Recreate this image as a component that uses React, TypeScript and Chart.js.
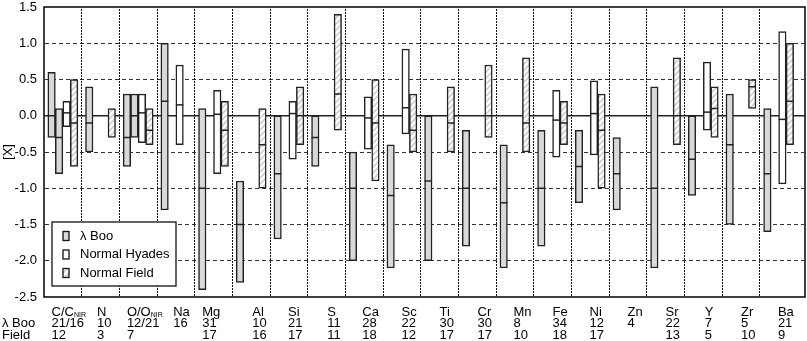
import React, { useEffect, useRef } from 'react';
import { Chart, registerables } from 'chart.js';

Chart.register(...registerables);

// ---------- data ----------
const ELEMENTS = ['C/C_NIR', 'N', 'O/O_NIR', 'Na', 'Mg', 'Al', 'Si', 'S', 'Ca', 'Sc', 'Ti', 'Cr', 'Mn', 'Fe', 'Ni', 'Zn', 'Sr', 'Y', 'Zr', 'Ba'];
const LAMBOO_COUNTS = ['21/16', '10', '12/21', '16', '31', '10', '21', '11', '28', '22', '30', '30', '8', '34', '12', '4', '22', '7', '5', '21'];
const FIELD_COUNTS = ['12', '3', '7', '', '17', '16', '17', '11', '18', '12', '17', '17', '10', '18', '17', '', '13', '5', '10', '9'];

type R = [number, number] | null;

// lambda Boo (first element: C, O)
const LAMBOO_RANGE: R[] = [
  [-0.3, 0.6], [-0.5, 0.4], [-0.7, 0.3], [-1.3, 1.0], [-2.4, 0.1], [-2.3, -0.9], [-1.7, 0.0], [-0.7, 0.0], [-2.0, -0.5], [-2.1, -0.4],
  [-2.0, 0.0], [-1.8, -0.2], [-2.1, -0.4], [-1.8, -0.2], [-1.2, -0.2], [-1.3, -0.3], [-2.1, 0.4], [-1.1, 0.0], [-1.5, 0.3], [-1.6, 0.1],
];
const LAMBOO_MEDIAN: (number | null)[] = [0.0, -0.1, -0.3, 0.2, -1.0, -1.5, -0.8, -0.3, -1.0, -1.1, -0.9, -1.0, -1.2, -1.0, -0.7, -0.8, -1.0, -0.6, -0.4, -0.8];

// lambda Boo NIR (C_NIR, O_NIR)
const LAMBOO_NIR_RANGE: R[] = [
  [-0.8, 0.1], null, [-0.3, 0.3], null, null, null, null, null, null, null,
  null, null, null, null, null, null, null, null, null, null,
];
const LAMBOO_NIR_MEDIAN: (number | null)[] = [-0.3, null, 0.0, null, null, null, null, null, null, null, null, null, null, null, null, null, null, null, null, null];

// Normal Hyades
const HYADES_RANGE: R[] = [
  [-0.15, 0.2], null, [-0.37, 0.3], [-0.4, 0.7], [-0.8, 0.35], null, [-0.6, 0.2], null, [-0.46, 0.26], [-0.25, 0.92],
  null, null, null, [-0.57, 0.35], [-0.54, 0.48], null, null, [-0.2, 0.74], null, [-0.94, 1.16],
];
const HYADES_MEDIAN: (number | null)[] = [0.04, null, 0.04, 0.15, 0.02, null, 0.03, null, -0.03, 0.11, null, null, null, -0.06, 0.03, null, null, 0.05, null, -0.05];

// Normal Field
const FIELD_RANGE: R[] = [
  [-0.7, 0.5], [-0.3, 0.1], [-0.4, 0.1], null, [-0.7, 0.2], [-1.0, 0.1], [-0.4, 0.4], [-0.2, 1.4], [-0.9, 0.5], [-0.5, 0.3],
  [-0.5, 0.4], [-0.3, 0.7], [-0.5, 0.8], [-0.4, 0.2], [-1.0, 0.3], null, [-0.4, 0.8], [-0.3, 0.4], [0.1, 0.5], [-0.4, 1.0],
];
const FIELD_MEDIAN: (number | null)[] = [-0.1, null, -0.2, null, -0.2, -0.4, 0.0, 0.3, -0.1, -0.2, -0.1, 0.0, -0.1, -0.1, -0.2, null, 0.0, 0.1, 0.4, 0.2];

const Y_MIN = -2.5;
const Y_MAX = 1.5;
const Y_STEP = 0.5;

// ---------- layout / style ----------
const FONT = '"Liberation Sans", Arial, Helvetica, sans-serif';
const LABEL_ANCHOR = [0.2, 0.41, 0.2, 0.43, 0.2, 0.53, 0.48, 0.52, 0.45, 0.49, 0.5, 0.51, 0.46, 0.5, 0.48, 0.49, 0.5, 0.54, 0.5, 0.48];
const GRAY = '#d9d9d9';
const EDGE = '#222';

export default function App() {
  const ref = useRef<HTMLCanvasElement | null>(null);

  useEffect(() => {
    const canvas = ref.current;
    if (!canvas) return;
    const ctx0 = canvas.getContext('2d')!;

    const pc = document.createElement('canvas');
    pc.width = 6;
    pc.height = 6;
    const p = pc.getContext('2d')!;
    p.fillStyle = '#ffffff';
    p.fillRect(0, 0, 6, 6);
    p.strokeStyle = '#cfcfcf';
    p.lineWidth = 1.6;
    p.beginPath();
    p.moveTo(-1, 7); p.lineTo(7, -1);
    p.moveTo(-1, 1); p.lineTo(1, -1);
    p.moveTo(5, 7); p.lineTo(7, 5);
    p.stroke();
    const hatch = ctx0.createPattern(pc, 'repeat')!;

    const mk = (label: string, ranges: R[], fill: any, inLegend: boolean) => ({
      label,
      inLegend,
      data: ranges.map((r, i) => ({ x: i + 0.5, y: r ? r : [NaN, NaN] })),
      backgroundColor: fill,
      borderColor: EDGE,
      borderWidth: 1.5,
      borderSkipped: false,
      barThickness: 7.5,
      grouped: true,
    });

    const datasets: any[] = [
      mk('λ Boo', LAMBOO_RANGE, GRAY, true),
      mk('λ Boo NIR', LAMBOO_NIR_RANGE, GRAY, false),
      mk('Normal Hyades', HYADES_RANGE, '#ffffff', true),
      mk('Normal Field', FIELD_RANGE, hatch, true),
    ];
    const ranges = [LAMBOO_RANGE, LAMBOO_NIR_RANGE, HYADES_RANGE, FIELD_RANGE];
    const medians = [LAMBOO_MEDIAN, LAMBOO_NIR_MEDIAN, HYADES_MEDIAN, FIELD_MEDIAN];

    const drawLabel = (ctx: CanvasRenderingContext2D, text: string, x: number, y: number) => {
      const [main, sub] = text.split('_');
      ctx.font = `13px ${FONT}`;
      ctx.fillText(main, x, y);
      if (sub) {
        const w = ctx.measureText(main).width;
        ctx.font = `7px ${FONT}`;
        ctx.fillText(sub, x + w, y + 1.5);
      }
    };

    const paper = {
      id: 'paper',
      beforeDatasetsDraw(chart: any) {
        const { ctx, chartArea: a, scales } = chart;
        const x = scales.x;
        const y = scales.y;
        ctx.save();
        for (let v = Y_MIN + Y_STEP; v < Y_MAX - 1e-9; v += Y_STEP) {
          const row = Math.round(y.getPixelForValue(v) - 0.5);
          if (Math.abs(v) < 1e-9) {
            ctx.fillStyle = '#222';
            ctx.fillRect(a.left, row, a.right - a.left, 1.5);
          } else {
            ctx.fillStyle = '#333';
            for (let xx = Math.round(a.left) + 1; xx < a.right - 1; xx += 7) {
              ctx.fillRect(xx, row, Math.min(4, a.right - 1 - xx), 1);
            }
          }
        }
        ctx.fillStyle = '#111';
        for (let k = 1; k < ELEMENTS.length; k++) {
          const col = Math.round(x.getPixelForValue(k) - 0.5);
          for (let yy = Math.ceil(a.top) + 2; yy < a.bottom - 2; yy += 3) {
            ctx.fillRect(col, yy, 1, 2);
          }
        }
        ctx.restore();
      },
      afterDatasetsDraw(chart: any) {
        const { ctx, chartArea: a, scales } = chart;
        const x = scales.x;
        const y = scales.y;
        ctx.save();
        // medians
        ctx.strokeStyle = EDGE;
        ctx.lineWidth = 1.5;
        chart.data.datasets.forEach((ds: any, di: number) => {
          const meta = chart.getDatasetMeta(di);
          meta.data.forEach((bar: any, i: number) => {
            const m = medians[di][i];
            if (m == null || !ranges[di][i]) return;
            const { x: bx, width } = bar.getProps(['x', 'width'], true);
            const py = y.getPixelForValue(m);
            ctx.beginPath();
            ctx.moveTo(bx - width / 2, py);
            ctx.lineTo(bx + width / 2, py);
            ctx.stroke();
          });
        });
        // frame
        ctx.lineWidth = 1.6;
        ctx.strokeStyle = '#111';
        ctx.strokeRect(a.left, a.top, a.right - a.left, a.bottom - a.top);

        // legend
        const lx = a.left + 8;
        const ly = a.bottom - 75;
        ctx.fillStyle = '#ffffff';
        ctx.fillRect(lx, ly, 124, 64);
        ctx.lineWidth = 1.3;
        ctx.strokeStyle = '#111';
        ctx.strokeRect(lx, ly, 124, 64);
        const entries = chart.data.datasets.filter((d: any) => d.inLegend);
        entries.forEach((d: any, k: number) => {
          const cy = ly + 14 + k * 18.5;
          ctx.fillStyle = d.backgroundColor;
          ctx.fillRect(lx + 11, cy - 4.5, 6, 9);
          ctx.lineWidth = 1.3;
          ctx.strokeStyle = '#111';
          ctx.strokeRect(lx + 11, cy - 4.5, 6, 9);
          ctx.fillStyle = '#000';
          ctx.font = `13px ${FONT}`;
          ctx.textBaseline = 'middle';
          ctx.textAlign = 'left';
          ctx.fillText(d.label, lx + 28, cy);
        });

        // category labels
        ctx.textBaseline = 'alphabetic';
        ctx.textAlign = 'left';
        ctx.fillStyle = '#000';
        ELEMENTS.forEach((el, i) => {
          const px = x.getPixelForValue(i + LABEL_ANCHOR[i]);
          drawLabel(ctx, el, px, a.bottom + 18.5);
          ctx.font = `13px ${FONT}`;
          ctx.fillText(LAMBOO_COUNTS[i], px, a.bottom + 30);
          if (FIELD_COUNTS[i]) ctx.fillText(FIELD_COUNTS[i], px, a.bottom + 42);
        });
        ctx.font = `13px ${FONT}`;
        ctx.fillText('λ Boo', 2, a.bottom + 30);
        ctx.fillText('Field', 2, a.bottom + 42);

        // y title
        ctx.save();
        ctx.translate(12, (a.top + a.bottom) / 2);
        ctx.rotate(-Math.PI / 2);
        ctx.textAlign = 'center';
        ctx.textBaseline = 'alphabetic';
        ctx.fillText('[X]', 0, 0);
        ctx.restore();

        ctx.restore();
      },
    };

    const chart = new Chart(canvas, {
      type: 'bar',
      data: { datasets },
      options: {
        animation: false,
        responsive: false,
        devicePixelRatio: 1,
        layout: { padding: { top: 7, right: 2, bottom: 0, left: 0 } },
        plugins: { legend: { display: false }, tooltip: { enabled: false } },
        scales: {
          x: {
            type: 'linear',
            min: 0,
            max: 20.2,
            offset: false,
            ticks: { display: false },
            grid: { display: false, offset: false },
            border: { display: false },
            afterFit: (s: any) => { s.height = 44; },
          },
          y: {
            type: 'linear',
            min: Y_MIN,
            max: Y_MAX,
            ticks: {
              stepSize: Y_STEP,
              color: '#000',
              padding: 7,
              font: { family: FONT, size: 13 },
              callback: (v: any) => Number(v).toFixed(1),
            },
            grid: { display: false, drawTicks: false },
            border: { display: false },
            afterFit: (s: any) => { s.width = 44; s.paddingTop = 0; s.paddingBottom = 0; },
          },
        },
      } as any,
      plugins: [paper],
    });

    return () => chart.destroy();
  }, []);

  return (
    <div style={{ position: 'absolute', left: 0, top: 0, width: 807, height: 341, background: '#fff' }}>
      <canvas ref={ref} width={807} height={341} style={{ display: 'block' }} />
    </div>
  );
}
